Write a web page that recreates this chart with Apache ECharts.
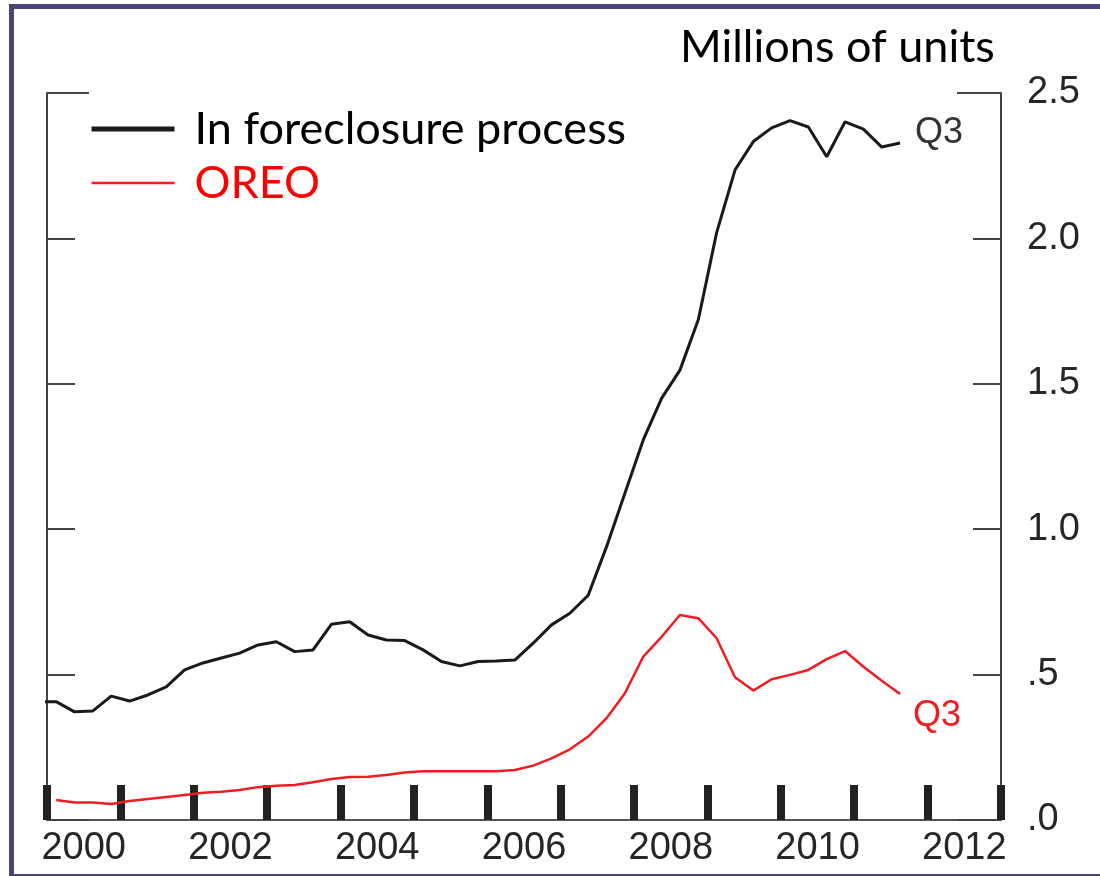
<!DOCTYPE html>
<html>
<head>
<meta charset="utf-8">
<script src="https://cdn.jsdelivr.net/npm/echarts@6/dist/echarts.min.js"></script>
<style>
html,body{margin:0;padding:0;background:#fff;overflow:hidden;width:1100px;height:876px;}
#wrap{position:relative;width:1100px;height:876px;overflow:hidden;}
#chart{position:absolute;left:0;top:0;width:1100px;height:876px;}
#frame{position:absolute;left:9px;top:4px;width:1300px;height:865px;border-top:5px solid #4a4478;border-left:5px solid #4a4478;border-bottom:2px solid #4a4478;pointer-events:none;}
</style>
</head>
<body>
<div id="wrap"><div id="chart"></div><div id="frame"></div></div>
<script>
// Quarterly observations; black series starts 1999Q4, red starts 2000Q1
const yearLabels = ['2000','2001','2002','2003','2004','2005','2006','2007','2008','2009','2010','2011','2012'];
const foreclosureStart = 1999.875; // mid of 1999Q4
const foreclosure = [
  0.406,
  0.407, 0.372, 0.375, 0.426,
  0.409, 0.430, 0.458, 0.516,
  0.540, 0.557, 0.574, 0.602,
  0.613, 0.579, 0.585, 0.673,
  0.682, 0.636, 0.619, 0.617,
  0.585, 0.545, 0.530, 0.545,
  0.547, 0.550, 0.608, 0.671,
  0.711, 0.773, 0.940, 1.124,
  1.307, 1.450, 1.547, 1.720,
  2.020, 2.235, 2.333, 2.380,
  2.405, 2.383, 2.281, 2.401,
  2.376, 2.314, 2.328
];
const oreoStart = 2000.125; // mid of 2000Q1
const oreo = [
  0.069, 0.060, 0.060, 0.055,
  0.065, 0.072, 0.079, 0.086,
  0.094, 0.097, 0.103, 0.113,
  0.118, 0.120, 0.130, 0.141,
  0.148, 0.149, 0.155, 0.163,
  0.168, 0.168, 0.168, 0.168,
  0.168, 0.172, 0.187, 0.212,
  0.243, 0.287, 0.350, 0.436,
  0.562, 0.630, 0.705, 0.694,
  0.625, 0.491, 0.445, 0.484,
  0.499, 0.516, 0.553, 0.581,
  0.527, 0.479, 0.433
];
const seriesNames = ['In foreclosure process', 'OREO'];
const endLabelText = 'Q3';
const unitTitle = 'Millions of units';

function toPairs(start, arr){ return arr.map((v,i)=>[start + i*0.25, v]); }

const chart = echarts.init(document.getElementById('chart'));
const axisColor = '#444';
const blackLine = '#1a1a1a';
const redLine = '#f01c24';
const tickFont = {fontFamily:'Liberation Sans, Arial, sans-serif', fontSize:38, color:'#262626'};
chart.setOption({
  animation:false,
  backgroundColor:'#fff',
  title:{text:unitTitle, left:675, top:20, textStyle:{fontFamily:'Lato, Carlito, sans-serif', fontSize:45, fontWeight:'normal', color:'#000'}},
  legend:{
    orient:'vertical', left:84, top:99, itemWidth:83, itemHeight:20, itemGap:4, selectedMode:false,
    itemStyle:{opacity:0, borderWidth:0},
    textStyle:{fontFamily:'Lato, Carlito, sans-serif', fontSize:45, lineHeight:50, padding:[0,0,0,15]},
    data:[
      {name:seriesNames[0], textStyle:{color:'#000'}, lineStyle:{width:5, color:blackLine}, itemStyle:{opacity:0}},
      {name:seriesNames[1], textStyle:{color:'#ff0000'}, lineStyle:{width:2.5, color:redLine}, itemStyle:{opacity:0}}
    ]
  },
  grid:{left:47, right:99, top:93, bottom:56},
  xAxis:[
    {type:'value', min:2000, max:2013, interval:1, position:'bottom',
     axisLine:{show:true, onZero:false, lineStyle:{color:'#555', width:2}},
     axisTick:{show:true, inside:true, length:35, lineStyle:{color:'#222', width:8}},
     axisLabel:{show:false}, splitLine:{show:false}},
    {type:'category', data:yearLabels, boundaryGap:true, position:'bottom',
     axisLine:{show:false}, axisTick:{show:false}, splitLine:{show:false},
     axisLabel:Object.assign({interval:1, margin:10}, tickFont)}
  ],
  yAxis:[
    {type:'value', position:'right', min:0, max:2.5, interval:0.5,
     axisLine:{show:true, onZero:false, lineStyle:{color:axisColor, width:2}},
     axisTick:{show:true, inside:true, length:28, lineStyle:{color:axisColor, width:2}},
     axisLabel:Object.assign({margin:26, formatter:v=>v.toFixed(1).replace(/^0/, '')}, tickFont),
     splitLine:{show:false}},
    {type:'value', position:'left', min:0, max:2.5, interval:0.5,
     axisLine:{show:true, onZero:false, lineStyle:{color:axisColor, width:2}},
     axisTick:{show:true, inside:true, length:28, lineStyle:{color:axisColor, width:2}},
     axisLabel:{show:false}, splitLine:{show:false}},
    {type:'value', position:'right', min:0, max:2.5, interval:2.5,
     axisLine:{show:false}, axisTick:{show:true, inside:true, length:44, lineStyle:{color:axisColor, width:2}},
     axisLabel:{show:false}, splitLine:{show:false}},
    {type:'value', position:'left', min:0, max:2.5, interval:2.5,
     axisLine:{show:false}, axisTick:{show:true, inside:true, length:42, lineStyle:{color:axisColor, width:2}},
     axisLabel:{show:false}, splitLine:{show:false}}
  ],
  series:[
    {name:seriesNames[0], type:'line', xAxisIndex:0, yAxisIndex:0, data:toPairs(foreclosureStart, foreclosure),
     symbol:'none', clip:true, lineStyle:{color:blackLine, width:3}, itemStyle:{color:blackLine},
     endLabel:{show:true, formatter:endLabelText, distance:15, offset:[0,-10], fontFamily:'Liberation Sans, Arial, sans-serif', fontSize:36, color:'#333'}},
    {name:seriesNames[1], type:'line', xAxisIndex:0, yAxisIndex:0, data:toPairs(oreoStart, oreo),
     symbol:'none', clip:true, lineStyle:{color:redLine, width:2.5}, itemStyle:{color:redLine},
     endLabel:{show:true, formatter:endLabelText, distance:13, offset:[0,22], fontFamily:'Liberation Sans, Arial, sans-serif', fontSize:36, color:redLine}}
  ]
});
</script>
</body>
</html>
